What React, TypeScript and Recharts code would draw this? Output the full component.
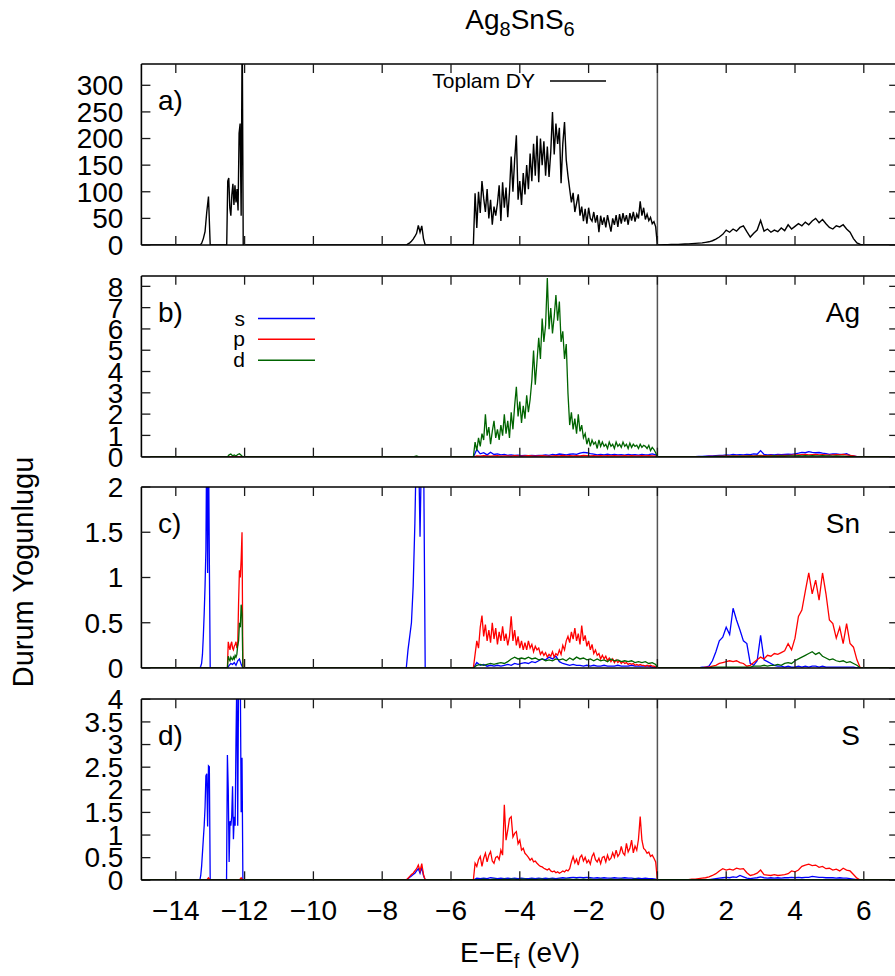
import React from 'react';
import { LineChart, Line, XAxis, YAxis, ReferenceLine, Customized } from 'recharts';

// a segment of a DOS curve sampled on a regular energy grid
type Seg = { from: number; step: number; dos: number[] };
type Pt = { e: number; v: number };

const FONT = '"Liberation Sans", Arial, Helvetica, sans-serif';

// energy window (eV, E - Ef)
const E_MIN = -15;
const E_MAX = 7;
const energyTicks = [-14, -12, -10, -8, -6, -4, -2, 0, 2, 4, 6];

const totalTicks = [0, 50, 100, 150, 200, 250, 300];
const agTicks = [0, 1, 2, 3, 4, 5, 6, 7, 8];
const snTicks = [0, 0.5, 1, 1.5, 2];
const sTicks = [0, 0.5, 1, 1.5, 2, 2.5, 3, 3.5, 4];

const BLUE = '#0000ff';
const RED = '#ff0000';
const GREEN = '#006400';

// ---------- a) total DOS ----------
const totCoreS: Seg = { from: -13.3, step: 0.05, dos: [0, 3, 12, 25, 62, 91, 0] };
const totCoreP: Seg = {
  from: -12.52,
  step: 0.03,
  dos: [0, 120, 126, 70, 55, 95, 115, 75, 112, 80, 105, 65, 210, 228, 55, 420, 0],
};
const totMid: Seg = { from: -7.3, step: 0.05, dos: [0, 2, 4, 7, 11, 16, 22, 37, 24, 36, 12, 0] };
const totValence: Seg = {
  from: -5.35,
  step: 0.05,
  dos: [
    0, 97, 32, 100, 60, 120, 88, 62, 105, 50,
    85, 38, 72, 55, 78, 112, 45, 118, 70, 108,
    52, 100, 166, 100, 160, 206, 85, 120, 75, 135,
    95, 150, 105, 172, 120, 190, 130, 205, 118, 200,
    150, 195, 130, 185, 128, 175, 250, 170, 228, 190,
    220, 116, 190, 231, 160, 130, 105, 80, 98, 62,
    78, 95, 55, 72, 45, 68, 40, 70, 50, 45,
    62, 42, 56, 24, 55, 38, 52, 33, 56, 40,
    25, 50, 38, 56, 34, 58, 40, 60, 44, 56,
    38, 60, 46, 62, 44, 58, 50, 82, 55, 70,
    48, 58, 46, 52, 40, 44, 34,
  ],
};
const totConduction: Seg = {
  from: 0,
  step: 0.1,
  dos: [
    0, 0.2, 0.4, 0.6, 0.8, 1, 1.2, 1.5, 1.8, 2.2,
    2.6, 3, 3.5, 4, 5, 6, 8, 11, 15, 20,
    28, 24, 30, 26, 33, 36, 25, 15, 22, 28,
    46, 26, 30, 24, 28, 25, 32, 27, 38, 30,
    35, 40, 36, 43, 38, 45, 50, 42, 48, 40,
    33, 30, 36, 34, 38, 30, 24, 12, 4, 1,
    0,
  ],
};

// ---------- b) Ag ----------
const agSValence: Seg = {
  from: -5.35,
  step: 0.1,
  dos: [
    0, 0.35, 0.15, 0.2, 0.1, 0.22, 0.12, 0.15, 0.1, 0.12,
    0.08, 0.1, 0.07, 0.09, 0.06, 0.08, 0.06, 0.07, 0.06, 0.08,
    0.07, 0.1, 0.08, 0.12, 0.1, 0.14, 0.12, 0.1, 0.13, 0.15,
    0.12, 0.18, 0.22, 0.2, 0.16, 0.14, 0.1, 0.12, 0.1, 0.13,
    0.1, 0.12, 0.1, 0.11, 0.09, 0.12, 0.1, 0.11, 0.09, 0.12,
    0.1, 0.11, 0.15, 0.1,
  ],
};
const agSConduction: Seg = {
  from: 0,
  step: 0.1,
  dos: [
    0, 0, 0, 0, 0, 0.01, 0.01, 0.01, 0.01, 0.02,
    0.02, 0.02, 0.03, 0.03, 0.04, 0.05, 0.05, 0.06, 0.07, 0.08,
    0.1, 0.09, 0.12, 0.1, 0.11, 0.1, 0.12, 0.11, 0.15, 0.13,
    0.3, 0.12, 0.1, 0.11, 0.1, 0.12, 0.11, 0.12, 0.13, 0.12,
    0.15, 0.18, 0.22, 0.2, 0.25, 0.22, 0.2, 0.21, 0.18, 0.16,
    0.12, 0.15, 0.14, 0.12, 0.12, 0.16, 0.08, 0.05, 0.02, 0,
    0,
  ],
};
const agPValence: Seg = {
  from: -5.35,
  step: 0.1,
  dos: [
    0, 0.05, 0.04, 0.06, 0.05, 0.04, 0.05, 0.06, 0.04, 0.05,
    0.05, 0.04, 0.06, 0.05, 0.04, 0.05, 0.06, 0.05, 0.04, 0.05,
    0.06, 0.05, 0.04, 0.05, 0.06, 0.05, 0.07, 0.05, 0.06, 0.05,
    0.06, 0.05, 0.07, 0.06, 0.05, 0.06, 0.05, 0.06, 0.05, 0.06,
    0.05, 0.06, 0.05, 0.05, 0.06, 0.05, 0.06, 0.05, 0.05, 0.06,
    0.05, 0.06, 0.05, 0.04,
  ],
};
const agPConduction: Seg = {
  from: 0,
  step: 0.1,
  dos: [
    0, 0, 0, 0, 0, 0, 0, 0.01, 0.01, 0.01,
    0.01, 0.01, 0.02, 0.02, 0.02, 0.03, 0.03, 0.03, 0.04, 0.04,
    0.05, 0.04, 0.05, 0.05, 0.04, 0.05, 0.05, 0.06, 0.05, 0.06,
    0.07, 0.06, 0.06, 0.07, 0.06, 0.07, 0.08, 0.07, 0.08, 0.09,
    0.1, 0.1, 0.11, 0.12, 0.1, 0.11, 0.12, 0.1, 0.11, 0.1,
    0.09, 0.1, 0.11, 0.1, 0.12, 0.1, 0.08, 0.05, 0.02, 0,
    0,
  ],
};
const agDCore: Seg = { from: -12.5, step: 0.05, dos: [0, 0.1, 0.14, 0.06, 0.1, 0.05, 0.12, 0.15, 0.08, 0] };
const agDMid: Seg = { from: -7.1, step: 0.05, dos: [0, 0.03, 0.05, 0.02, 0] };
const agDValence: Seg = {
  from: -5.35,
  step: 0.05,
  dos: [
    0, 0.7, 0.3, 0.9, 0.5, 1.1, 0.8, 2.0, 1.0, 1.4,
    0.6, 1.2, 1.7, 0.9, 1.3, 0.8, 1.5, 1.0, 2.0, 1.1,
    1.7, 0.9, 2.1, 1.3, 2.4, 3.3, 1.9, 2.6, 1.6, 2.4,
    1.8, 2.9, 2.1, 2.7, 3.6, 5.0, 3.4, 4.5, 5.6, 4.6,
    6.5, 5.4, 6.2, 8.4, 6.0, 7.0, 5.8, 6.6, 7.6, 6.4,
    7.3, 5.4, 5.9, 4.6, 5.3, 3.0, 1.5, 2.1, 1.3, 1.8,
    1.1, 2.0, 1.2, 1.5, 0.9, 1.1, 0.6, 0.9, 0.5, 0.8,
    0.6, 0.7, 0.4, 0.8, 0.5, 0.7, 0.5, 0.6, 0.4, 0.7,
    0.5, 0.6, 0.4, 0.7, 0.5, 0.6, 0.45, 0.7, 0.5, 0.6,
    0.4, 0.65, 0.45, 0.6, 0.5, 0.55, 0.4, 0.6, 0.45, 0.55,
    0.5, 0.4, 0.55, 0.3, 0.45, 0.35, 0.2,
  ],
};
const agDConduction: Seg = {
  from: 0,
  step: 0.1,
  dos: [
    0, 0, 0, 0, 0, 0, 0, 0, 0.01, 0.01,
    0.01, 0.01, 0.01, 0.02, 0.02, 0.02, 0.02, 0.03, 0.03, 0.03,
    0.03, 0.03, 0.04, 0.03, 0.04, 0.03, 0.04, 0.04, 0.03, 0.04,
    0.04, 0.03, 0.04, 0.04, 0.05, 0.04, 0.05, 0.04, 0.05, 0.05,
    0.05, 0.06, 0.05, 0.06, 0.05, 0.06, 0.05, 0.05, 0.06, 0.05,
    0.05, 0.04, 0.05, 0.04, 0.04, 0.03, 0.03, 0.02, 0.01, 0,
    0,
  ],
};

// ---------- c) Sn ----------
const snSCore1: Seg = { from: -13.3, step: 0.025, dos: [0, 0.02, 0.05, 0.15, 0.35, 0.6, 0.9, 1.3, 2.6, 1.05, 2.6, 1.2, 0] };
const snSCore2: Seg = { from: -12.5, step: 0.05, dos: [0, 0.03, 0.05, 0.04, 0.06, 0.03, 0.08, 0.1, 0.04, 0] };
const snSMid: Seg = { from: -7.3, step: 0.05, dos: [0, 0.2, 0.35, 0.5, 0.9, 1.6, 2.6, 2.6, 1.45, 2.6, 2.6, 0] };
const snSValence: Seg = {
  from: -5.35,
  step: 0.1,
  dos: [
    0, 0.06, 0.03, 0.04, 0.02, 0.03, 0.02, 0.03, 0.02, 0.03,
    0.04, 0.03, 0.05, 0.04, 0.05, 0.06, 0.05, 0.07, 0.06, 0.08,
    0.1, 0.09, 0.12, 0.1, 0.13, 0.07, 0.05, 0.04, 0.03, 0.04,
    0.03, 0.03, 0.02, 0.03, 0.02, 0.03, 0.02, 0.02, 0.03, 0.02,
    0.02, 0.02, 0.03, 0.02, 0.02, 0.02, 0.03, 0.02, 0.02, 0.02,
    0.02, 0.02, 0.01, 0.01,
  ],
};
const snSConduction: Seg = {
  from: 0,
  step: 0.1,
  dos: [
    0, 0, 0, 0, 0, 0, 0, 0, 0, 0,
    0, 0, 0, 0.01, 0.01, 0.02, 0.08, 0.18, 0.3, 0.34,
    0.45, 0.37, 0.66, 0.53, 0.42, 0.3, 0.27, 0.05, 0.03, 0.08,
    0.36, 0.09, 0.07, 0.05, 0.03, 0.02, 0.02, 0.01, 0.02, 0.01,
    0.01, 0.02, 0.01, 0.02, 0.01, 0.02, 0.02, 0.01, 0.02, 0.01,
    0.01, 0.01, 0.01, 0.01, 0.01, 0.01, 0.01, 0.01, 0, 0,
    0,
  ],
};
const snPCore: Seg = {
  from: -12.5,
  step: 0.025,
  dos: [0, 0.29, 0.24, 0.2, 0.26, 0.29, 0.22, 0.2, 0.24, 0.26, 0.29, 0.22, 0.25, 0.72, 1.08, 1.0, 1.2, 1.5, 0],
};
const snPValence: Seg = {
  from: -5.35,
  step: 0.05,
  dos: [
    0, 0.15, 0.3, 0.22, 0.45, 0.58, 0.35, 0.48, 0.3, 0.42,
    0.28, 0.5, 0.32, 0.44, 0.26, 0.4, 0.3, 0.46, 0.3, 0.38,
    0.25, 0.35, 0.57, 0.3, 0.42, 0.25, 0.35, 0.22, 0.3, 0.2,
    0.28, 0.2, 0.3, 0.22, 0.26, 0.18, 0.24, 0.2, 0.22, 0.15,
    0.18, 0.14, 0.17, 0.12, 0.15, 0.13, 0.18, 0.12, 0.16, 0.14,
    0.2, 0.15, 0.25, 0.2, 0.3, 0.35, 0.28, 0.4, 0.32, 0.44,
    0.3, 0.38, 0.26, 0.47, 0.3, 0.36, 0.24, 0.3, 0.2, 0.26,
    0.16, 0.2, 0.14, 0.16, 0.1, 0.14, 0.1, 0.13, 0.08, 0.11,
    0.07, 0.1, 0.06, 0.09, 0.06, 0.08, 0.05, 0.07, 0.05, 0.06,
    0.04, 0.05, 0.04, 0.05, 0.03, 0.04, 0.03, 0.04, 0.03, 0.03,
    0.02, 0.03, 0.02, 0.03, 0.02, 0.02, 0.01,
  ],
};
const snPConduction: Seg = {
  from: 0,
  step: 0.1,
  dos: [
    0, 0, 0, 0, 0, 0, 0, 0, 0, 0,
    0, 0, 0, 0, 0.01, 0.01, 0.02, 0.03, 0.05, 0.06,
    0.07, 0.08, 0.07, 0.08, 0.06, 0.05, 0.02, 0.03, 0.06, 0.09,
    0.12, 0.1, 0.14, 0.13, 0.16, 0.15, 0.17, 0.19, 0.27, 0.2,
    0.33, 0.57, 0.64, 0.85, 1.05, 0.82, 0.97, 0.75, 1.05, 0.82,
    0.53, 0.49, 0.33, 0.45, 0.27, 0.49, 0.27, 0.23, 0.09, 0,
    0,
  ],
};
const snDCore: Seg = {
  from: -12.5,
  step: 0.025,
  dos: [0, 0.13, 0.1, 0.08, 0.12, 0.1, 0.09, 0.12, 0.1, 0.14, 0.12, 0.15, 0.25, 0.3, 0.5, 0.45, 0.7, 0.6, 0],
};
const snDValence: Seg = {
  from: -5.35,
  step: 0.1,
  dos: [
    0, 0.03, 0.04, 0.03, 0.04, 0.05, 0.04, 0.05, 0.06, 0.05,
    0.07, 0.1, 0.12, 0.1, 0.11, 0.1, 0.12, 0.1, 0.11, 0.09,
    0.1, 0.08, 0.09, 0.08, 0.1, 0.09, 0.1, 0.08, 0.11, 0.09,
    0.12, 0.1, 0.11, 0.09, 0.1, 0.08, 0.1, 0.08, 0.09, 0.07,
    0.1, 0.08, 0.09, 0.07, 0.08, 0.07, 0.08, 0.06, 0.07, 0.06,
    0.07, 0.05, 0.06, 0.04,
  ],
};
const snDConduction: Seg = {
  from: 0,
  step: 0.1,
  dos: [
    0, 0, 0, 0, 0, 0, 0, 0, 0, 0,
    0, 0, 0, 0, 0, 0, 0.01, 0.01, 0.01, 0.01,
    0.01, 0.01, 0.01, 0.01, 0.01, 0.01, 0.01, 0.01, 0.02, 0.02,
    0.02, 0.03, 0.02, 0.03, 0.03, 0.04, 0.03, 0.05, 0.06, 0.05,
    0.08, 0.1, 0.12, 0.14, 0.16, 0.18, 0.15, 0.17, 0.13, 0.11,
    0.09, 0.1, 0.08, 0.07, 0.08, 0.06, 0.07, 0.05, 0.03, 0,
    0,
  ],
};

// ---------- d) S ----------
const sSCore1: Seg = { from: -13.3, step: 0.025, dos: [0, 0.1, 0.3, 0.6, 0.9, 1.2, 1.6, 2.3, 2.35, 1.18, 2.52, 2.5, 0] };
const sSCore2: Seg = {
  from: -12.525,
  step: 0.025,
  dos: [0, 2.76, 2.0, 0.4, 1.3, 1.2, 1.4, 2.07, 0.9, 1.4, 1.2, 3.1, 4.5, 1.2, 4.5, 4.5, 4.5, 1.5, 2.7, 0],
};
const sSMid: Seg = { from: -7.3, step: 0.05, dos: [0, 0.03, 0.06, 0.09, 0.12, 0.15, 0.2, 0.25, 0.15, 0.28, 0.1, 0] };
const sSValence: Seg = {
  from: -5.35,
  step: 0.1,
  dos: [
    0, 0.04, 0.03, 0.04, 0.03, 0.05, 0.04, 0.03, 0.04, 0.03,
    0.04, 0.03, 0.04, 0.03, 0.04, 0.03, 0.03, 0.04, 0.03, 0.04,
    0.03, 0.04, 0.03, 0.04, 0.03, 0.04, 0.05, 0.04, 0.05, 0.06,
    0.05, 0.06, 0.05, 0.06, 0.05, 0.04, 0.05, 0.04, 0.05, 0.04,
    0.04, 0.05, 0.04, 0.04, 0.05, 0.04, 0.04, 0.03, 0.04, 0.03,
    0.04, 0.03, 0.03, 0.02,
  ],
};
const sSConduction: Seg = {
  from: 0,
  step: 0.1,
  dos: [
    0, 0, 0, 0, 0, 0, 0, 0, 0, 0,
    0, 0, 0, 0, 0.01, 0.01, 0.02, 0.03, 0.04, 0.05,
    0.06, 0.05, 0.07, 0.06, 0.1, 0.07, 0.04, 0.03, 0.04, 0.05,
    0.07, 0.05, 0.04, 0.05, 0.04, 0.05, 0.04, 0.05, 0.05, 0.06,
    0.05, 0.06, 0.05, 0.06, 0.06, 0.08, 0.07, 0.06, 0.06, 0.05,
    0.05, 0.05, 0.04, 0.05, 0.04, 0.04, 0.03, 0.02, 0.01, 0,
    0,
  ],
};
const sPCore1: Seg = { from: -13.1, step: 0.05, dos: [0, 0.05, 0] };
const sPCore2: Seg = { from: -12.15, step: 0.05, dos: [0, 0.05, 0] };
const sPMid: Seg = { from: -7.3, step: 0.05, dos: [0, 0.04, 0.08, 0.12, 0.15, 0.2, 0.25, 0.33, 0.2, 0.36, 0.12, 0] };
const sPValence: Seg = {
  from: -5.35,
  step: 0.05,
  dos: [
    0, 0.37, 0.3, 0.45, 0.52, 0.3, 0.48, 0.59, 0.4, 0.55,
    0.63, 0.42, 0.37, 0.5, 0.52, 0.45, 0.66, 0.55, 1.66, 0.88,
    1.1, 1.36, 1.4, 0.95, 1.03, 1.07, 0.8, 0.88, 0.66, 0.7,
    0.59, 0.55, 0.5, 0.44, 0.48, 0.4, 0.42, 0.37, 0.33, 0.3,
    0.29, 0.26, 0.24, 0.22, 0.25, 0.2, 0.18, 0.2, 0.16, 0.18,
    0.15, 0.17, 0.2, 0.18, 0.22, 0.2, 0.25, 0.4, 0.52, 0.38,
    0.46, 0.33, 0.5, 0.55, 0.42, 0.5, 0.38, 0.44, 0.35, 0.52,
    0.59, 0.45, 0.4, 0.48, 0.36, 0.5, 0.52, 0.4, 0.55, 0.44,
    0.48, 0.6, 0.5, 0.66, 0.52, 0.58, 0.74, 0.6, 0.55, 0.81,
    0.62, 0.7, 0.88, 0.6, 0.75, 0.66, 0.9, 1.4, 0.88, 0.7,
    0.66, 0.59, 0.62, 0.52, 0.55, 0.48, 0.4,
  ],
};
const sPConduction: Seg = {
  from: 0,
  step: 0.1,
  dos: [
    0, 0, 0, 0, 0, 0, 0, 0, 0, 0.01,
    0.02, 0.02, 0.03, 0.04, 0.05, 0.07, 0.1, 0.14, 0.2, 0.25,
    0.22, 0.24, 0.22, 0.26, 0.24, 0.25, 0.16, 0.1, 0.12, 0.15,
    0.22, 0.12, 0.11, 0.1, 0.12, 0.1, 0.11, 0.12, 0.14, 0.2,
    0.18, 0.22, 0.3, 0.33, 0.35, 0.32, 0.33, 0.28, 0.3, 0.25,
    0.26, 0.22, 0.24, 0.2, 0.26, 0.22, 0.2, 0.12, 0.04, 0,
    0,
  ],
};
const sDValence: Seg = {
  from: -5.35,
  step: 0.1,
  dos: [
    0, 0.01, 0.01, 0.02, 0.01, 0.01, 0.02, 0.01, 0.01, 0.02,
    0.01, 0.02, 0.02, 0.01, 0.02, 0.02, 0.01, 0.02, 0.01, 0.02,
    0.02, 0.01, 0.02, 0.02, 0.01, 0.02, 0.01, 0.02, 0.02, 0.01,
    0.02, 0.01, 0.02, 0.01, 0.02, 0.01, 0.01, 0.02, 0.01, 0.01,
    0.02, 0.01, 0.01, 0.02, 0.01, 0.01, 0.01, 0.02, 0.01, 0.01,
    0.01, 0.01, 0.01, 0.01,
  ],
};

// joins the segments into one curve, zero outside of them
function toPoints(segs: Seg[]): Pt[] {
  const pts: Pt[] = [{ e: E_MIN, v: 0 }];
  segs.forEach((s) => {
    s.dos.forEach((v, i) => pts.push({ e: +(s.from + i * s.step).toFixed(4), v }));
  });
  pts.push({ e: E_MAX, v: 0 });
  return pts;
}

type Curve = { name: string; color: string; width: number; pts: Pt[] };
type LegendRow = { label: string; color: string; y: number };
type PanelDef = {
  top: number;
  yMax: number;
  yTicks: number[];
  tag: string;
  element?: string;
  curves: Curve[];
  legend?: { textEnd: number; x1: number; x2: number; rows: LegendRow[] };
  xLabels?: boolean;
};

// layout of every panel (page px)
const CHART_W = 960;
const PLOT_LEFT = 141.4;
const PLOT_RIGHT = 898.2;
const PLOT_H = 181;
const Y_AXIS_W = 60;
const Y_AXIS_R_W = 20;
const X_AXIS_TOP_H = 10;
const PAD = 5;
const IN_TOP = PAD + X_AXIS_TOP_H;
const TICK_LEN = 9;
const Y_LABEL_GAP = 18;
const X_LABEL_GAP = 20;

const panels: PanelDef[] = [
  {
    top: 64,
    yMax: 340,
    yTicks: totalTicks,
    tag: 'a)',
    curves: [
      { name: 'total', color: '#000', width: 1.4, pts: toPoints([totCoreS, totCoreP, totMid, totValence, totConduction]) },
    ],
    legend: { textEnd: 535, x1: 550, x2: 606, rows: [{ label: 'Toplam DY', color: '#000', y: IN_TOP + 17 }] },
  },
  {
    top: 275.7,
    yMax: 8.5,
    yTicks: agTicks,
    tag: 'b)',
    element: 'Ag',
    curves: [
      { name: 's', color: BLUE, width: 1.3, pts: toPoints([agSValence, agSConduction]) },
      { name: 'p', color: RED, width: 1.3, pts: toPoints([agPValence, agPConduction]) },
      { name: 'd', color: GREEN, width: 1.3, pts: toPoints([agDCore, agDMid, agDValence, agDConduction]) },
    ],
    legend: {
      textEnd: 245,
      x1: 258,
      x2: 315,
      rows: [
        { label: 's', color: BLUE, y: IN_TOP + 42.6 },
        { label: 'p', color: RED, y: IN_TOP + 63.3 },
        { label: 'd', color: GREEN, y: IN_TOP + 84.3 },
      ],
    },
  },
  {
    top: 487,
    yMax: 2,
    yTicks: snTicks,
    tag: 'c)',
    element: 'Sn',
    curves: [
      { name: 's', color: BLUE, width: 1.3, pts: toPoints([snSCore1, snSCore2, snSMid, snSValence, snSConduction]) },
      { name: 'p', color: RED, width: 1.3, pts: toPoints([snPCore, snPValence, snPConduction]) },
      { name: 'd', color: GREEN, width: 1.3, pts: toPoints([snDCore, snDValence, snDConduction]) },
    ],
  },
  {
    top: 699.3,
    yMax: 4,
    yTicks: sTicks,
    tag: 'd)',
    element: 'S',
    xLabels: true,
    curves: [
      { name: 's', color: BLUE, width: 1.3, pts: toPoints([sSCore1, sSCore2, sSMid, sSValence, sSConduction]) },
      { name: 'p', color: RED, width: 1.3, pts: toPoints([sPCore1, sPCore2, sPMid, sPValence, sPConduction]) },
      { name: 'd', color: GREEN, width: 1.3, pts: toPoints([sDValence]) },
    ],
  },
];

const fmt = (v: number) => (v < 0 ? `\u2212${-v}` : `${v}`);
const axisLine = { stroke: '#000', strokeWidth: 1.6 };
const tickFont = { fill: '#000', fontSize: 28, fontFamily: FONT };

// page-space linear maps matching the axis domains over each plot box
const xPix = (e: number) => PLOT_LEFT + ((e - E_MIN) / (E_MAX - E_MIN)) * (PLOT_RIGHT - PLOT_LEFT);
const yPix = (p: PanelDef, v: number) => p.top + PLOT_H - (v / p.yMax) * PLOT_H;

// inward tick marks on all four sides of one panel
function TickMarks({ p }: { p: PanelDef }) {
  const bottom = p.top + PLOT_H;
  const segs: [number, number, number, number][] = [];
  energyTicks.forEach((t) => {
    segs.push([xPix(t), bottom, xPix(t), bottom - TICK_LEN]);
    segs.push([xPix(t), p.top, xPix(t), p.top + TICK_LEN]);
  });
  p.yTicks.forEach((v) => {
    segs.push([PLOT_LEFT, yPix(p, v), PLOT_LEFT + TICK_LEN, yPix(p, v)]);
    segs.push([PLOT_RIGHT, yPix(p, v), PLOT_RIGHT - TICK_LEN, yPix(p, v)]);
  });
  return (
    <>
      {segs.map(([x1, y1, x2, y2], i) => (
        <line key={i} x1={x1} y1={y1} x2={x2} y2={y2} stroke="#1a1a1a" strokeWidth={1.3} />
      ))}
    </>
  );
}

function PanelMarks({ p }: { p: PanelDef }) {
  return (
    <g fontFamily={FONT} fill="#000">
      <text x={158} y={IN_TOP + 46} fontSize={28}>
        {p.tag}
      </text>
      {p.element && (
        <text x={860} y={IN_TOP + 46} fontSize={28} textAnchor="end">
          {p.element}
        </text>
      )}
      {p.legend &&
        p.legend.rows.map((r) => (
          <g key={r.label}>
            <text x={p.legend!.textEnd} y={r.y + 7} fontSize={21} textAnchor="end">
              {r.label}
            </text>
            <line x1={p.legend!.x1} x2={p.legend!.x2} y1={r.y} y2={r.y} stroke={r.color} strokeWidth={1.5} />
          </g>
        ))}
    </g>
  );
}

function DosPanel({ p }: { p: PanelDef }) {
  const xh = p.xLabels ? 75 : 10;
  return (
    <div style={{ position: 'absolute', left: 0, top: p.top - IN_TOP }}>
      <LineChart
        width={CHART_W}
        height={IN_TOP + PLOT_H + xh + PAD}
        margin={{ top: PAD, right: CHART_W - PLOT_RIGHT - Y_AXIS_R_W, bottom: PAD, left: PLOT_LEFT - Y_AXIS_W }}
      >
        <XAxis
          xAxisId="b"
          type="number"
          dataKey="e"
          domain={[E_MIN, E_MAX]}
          ticks={energyTicks}
          interval={0}
          allowDataOverflow
          height={xh}
          tickSize={0}
          tickMargin={X_LABEL_GAP}
          axisLine={axisLine}
          tickLine={false}
          tick={p.xLabels ? tickFont : false}
          tickFormatter={fmt}
        />
        <XAxis
          xAxisId="t"
          orientation="top"
          type="number"
          dataKey="e"
          domain={[E_MIN, E_MAX]}
          allowDataOverflow
          height={X_AXIS_TOP_H}
          axisLine={axisLine}
          tickLine={false}
          tick={false}
        />
        <YAxis
          yAxisId="l"
          type="number"
          domain={[0, p.yMax]}
          ticks={p.yTicks}
          interval={0}
          allowDataOverflow
          width={Y_AXIS_W}
          tickSize={0}
          tickMargin={Y_LABEL_GAP}
          axisLine={axisLine}
          tickLine={false}
          tick={tickFont}
          tickFormatter={fmt}
        />
        <YAxis
          yAxisId="r"
          orientation="right"
          type="number"
          domain={[0, p.yMax]}
          allowDataOverflow
          width={Y_AXIS_R_W}
          axisLine={axisLine}
          tickLine={false}
          tick={false}
        />
        <ReferenceLine xAxisId="b" yAxisId="l" x={0} stroke="#555" strokeWidth={1.5} />
        {p.curves.map((c) => (
          <Line
            key={c.name}
            xAxisId="b"
            yAxisId="l"
            data={c.pts}
            dataKey="v"
            type="linear"
            stroke={c.color}
            strokeWidth={c.width}
            dot={false}
            activeDot={false}
            isAnimationActive={false}
          />
        ))}
        <Customized component={<PanelMarks p={p} />} />
      </LineChart>
    </div>
  );
}

export default function App() {
  return (
    <div
      style={{
        position: 'absolute',
        left: 0,
        top: 0,
        width: 895,
        height: 976,
        overflow: 'hidden',
        background: '#fff',
        fontFamily: FONT,
      }}
    >
      {panels.map((p) => (
        <DosPanel key={p.tag} p={p} />
      ))}
      <svg width={895} height={976} style={{ position: 'absolute', left: 0, top: 0, pointerEvents: 'none' }}>
        {panels.map((p) => (
          <TickMarks key={p.tag} p={p} />
        ))}
        <g fontFamily={FONT} fill="#000">
          <text x={520} y={29} textAnchor="middle" fontSize={28}>
            Ag
            <tspan fontSize={20} dy={7}>
              8
            </tspan>
            <tspan dy={-7}>SnS</tspan>
            <tspan fontSize={20} dy={7}>
              6
            </tspan>
          </text>
          <text x={520} y={962} textAnchor="middle" fontSize={28}>
            E{'\u2212'}E
            <tspan fontSize={20} dy={6}>
              f
            </tspan>
            <tspan dy={-6}>{'\u00a0(eV)'}</tspan>
          </text>
          <text transform="translate(33,572) rotate(-90)" textAnchor="middle" fontSize={29}>
            Durum Yogunlugu
          </text>
        </g>
      </svg>
    </div>
  );
}
